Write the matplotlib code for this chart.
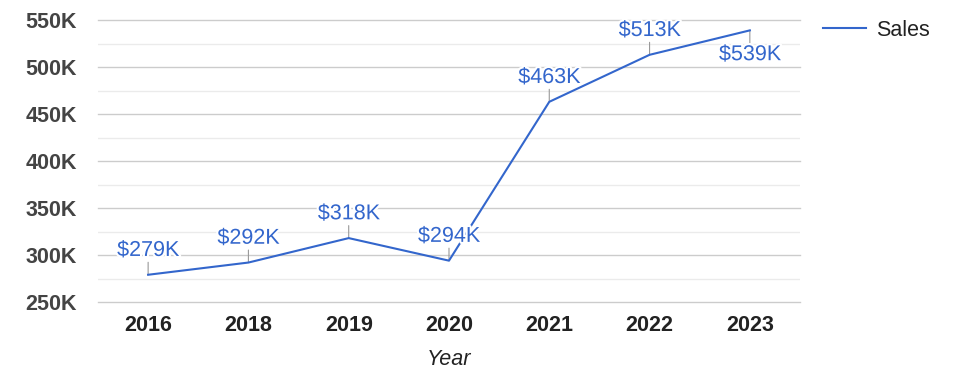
import matplotlib.pyplot as plt
import matplotlib.patheffects as pe
from matplotlib.ticker import MultipleLocator, FuncFormatter

years = ['2016', '2018', '2019', '2020', '2021', '2022', '2023']
sales = [279000, 292000, 318000, 294000, 463000, 513000, 539000]
labels = ['$279K', '$292K', '$318K', '$294K', '$463K', '$513K', '$539K']
# +1 = label above the point, -1 = below
label_side = [1, 1, 1, 1, 1, 1, -1]

plt.rcParams['font.family'] = ['Liberation Sans', 'DejaVu Sans']

blue = '#3366cc'
fs = 15.5

fig = plt.figure(figsize=(9.75, 3.78), dpi=100)
ax = fig.add_axes([0.1005, 0.201, 0.72, 0.746])

x = list(range(len(years)))
ax.plot(x, sales, color=blue, linewidth=1.5, label='Sales', zorder=3)

for i, (v, lab, side) in enumerate(zip(sales, labels, label_side)):
    # short gray leader line
    ax.annotate('', xy=(i, v), xytext=(0, 9 * side), textcoords='offset points',
                arrowprops=dict(arrowstyle='-', color='#999999', lw=0.8,
                                shrinkA=0, shrinkB=0), zorder=2)
    ax.annotate(lab, xy=(i, v), xytext=(0, 17.5 * side), textcoords='offset points',
                ha='center', va='center', fontsize=fs, color=blue, zorder=4,
                path_effects=[pe.withStroke(linewidth=3, foreground='white')])

ax.set_xlim(-0.5, len(years) - 0.5)
ax.set_ylim(250000, 550000)
ax.set_xticks(x)
ax.set_xticklabels(years, fontsize=fs, fontweight='bold', color='#222222')
ax.yaxis.set_major_locator(MultipleLocator(50000))
ax.yaxis.set_minor_locator(MultipleLocator(25000))
ax.yaxis.set_major_formatter(FuncFormatter(lambda v, p: f'{int(v/1000)}K'))
for t in ax.get_yticklabels():
    t.set_fontsize(fs)
    t.set_fontweight('bold')
    t.set_color('#444444')

ax.tick_params(axis='both', which='both', length=0)
ax.tick_params(axis='y', pad=15)
ax.tick_params(axis='x', pad=9)
ax.grid(axis='y', which='major', color='#cccccc', linewidth=1)
ax.grid(axis='y', which='minor', color='#ebebeb', linewidth=1)
ax.set_axisbelow(True)
for tick in ax.yaxis.get_major_ticks():
    tick.gridline.set_clip_on(False)
for s in ax.spines.values():
    s.set_visible(False)

ax.set_xlabel('Year', fontsize=fs, fontstyle='italic', color='#222222', labelpad=10)

fig.legend(loc='center left', bbox_to_anchor=(823 / 975, 1 - 30 / 378),
           frameon=False, fontsize=fs, handlelength=2.0, handletextpad=0.45,
           borderpad=0, borderaxespad=0, labelcolor='#222222')

fig.savefig('out.png', dpi=100)
